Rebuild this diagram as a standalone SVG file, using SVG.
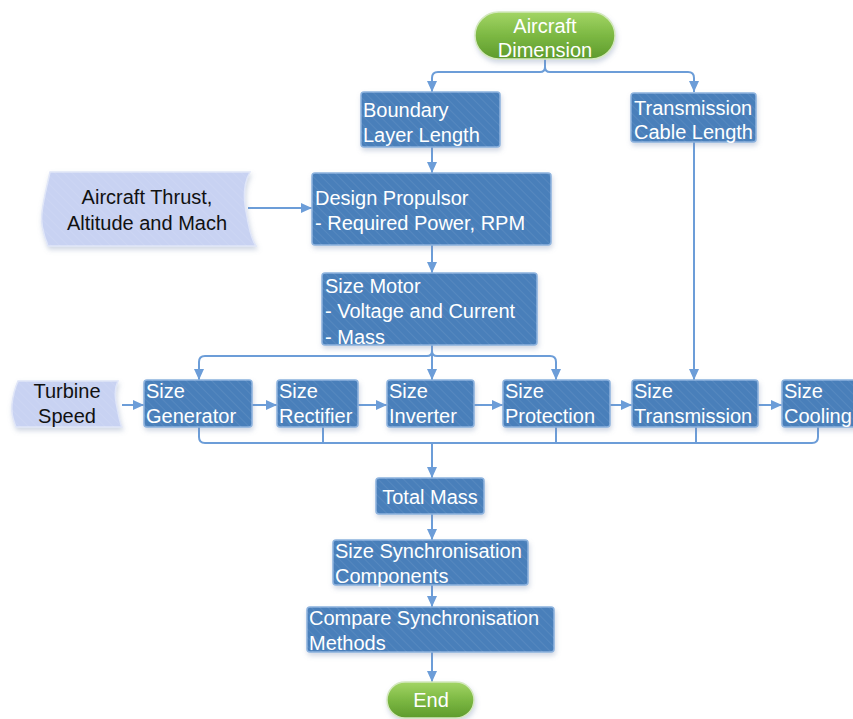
<svg xmlns="http://www.w3.org/2000/svg" width="853" height="719" viewBox="0 0 853 719">
<style>
.box{fill:#4a7fba;stroke:#8cb2de;stroke-width:1.5}
.hatch{fill:url(#hatch);pointer-events:none}
.data{fill:#c8d2f2;stroke:#e0e6f8;stroke-width:1.5}
.term{fill:url(#green);stroke:#d4e8bf;stroke-width:1.5}
.wt{font-family:"Liberation Sans",Arial,sans-serif;font-size:20px;fill:#ffffff}
.bt{font-family:"Liberation Sans",Arial,sans-serif;font-size:20px;fill:#111111}
.c{text-anchor:middle}
.conn path{fill:none;stroke:#6c9dd8;stroke-width:2}
.sh{filter:url(#shadow)}
</style>
<defs>
<linearGradient id="green" x1="0" y1="0" x2="0" y2="1">
<stop offset="0" stop-color="#a3d565"/>
<stop offset="0.5" stop-color="#7cb843"/>
<stop offset="1" stop-color="#5e9b2c"/>
</linearGradient>
<pattern id="hatch" width="6" height="6" patternUnits="userSpaceOnUse" patternTransform="rotate(-45)">
<rect width="6" height="6" fill="none"/>
<line x1="0" y1="0" x2="0" y2="6" stroke="#ffffff" stroke-opacity="0.07" stroke-width="2"/>
</pattern>
<filter id="shadow" x="-10%" y="-20%" width="120%" height="150%">
<feDropShadow dx="1" dy="3" stdDeviation="2.5" flood-color="#7a8fb0" flood-opacity="0.35"/>
</filter>
<marker id="arr" markerWidth="12" markerHeight="12" refX="11" refY="6" orient="auto" markerUnits="userSpaceOnUse">
<path d="M0,1 L11,6 L0,11 Z" fill="#6c9dd8"/>
</marker>
</defs>
<rect width="853" height="719" fill="#ffffff"/>

<g class="conn" id="connectors">
<path d="M545,59 V67 Q545,72 540,72 H438 Q432,72 432,78 V92" marker-end="url(#arr)"/>
<path d="M545,67 Q545,72 550,72 H688 Q694,72 694,78 V92" marker-end="url(#arr)"/>
<path d="M432,147 V173" marker-end="url(#arr)"/>
<path d="M248,208 H312" marker-end="url(#arr)"/>
<path d="M432,245 V273" marker-end="url(#arr)"/>
<path d="M694,142 V380" marker-end="url(#arr)"/>
<path d="M432,345 V380" marker-end="url(#arr)"/>
<path d="M432,351 Q432,356 427,356 H205 Q199,356 199,362 V380" marker-end="url(#arr)"/>
<path d="M432,351 Q432,356 437,356 H550 Q556,356 556,362 V380" marker-end="url(#arr)"/>
<path d="M122,405 H144" marker-end="url(#arr)"/>
<path d="M252,405 H277" marker-end="url(#arr)"/>
<path d="M358,405 H387" marker-end="url(#arr)"/>
<path d="M474,405 H503" marker-end="url(#arr)"/>
<path d="M610,405 H632" marker-end="url(#arr)"/>
<path d="M758,405 H782" marker-end="url(#arr)"/>
<path d="M199,427 V437 Q199,443 205,443 H812 Q818,443 818,437 V427"/>
<path d="M323,427 V443"/>
<path d="M556,427 V443"/>
<path d="M696,427 V443"/>
<path d="M432,443 V478" marker-end="url(#arr)"/>
<path d="M432,514 V540" marker-end="url(#arr)"/>
<path d="M432,585 V607" marker-end="url(#arr)"/>
<path d="M432,652 V682" marker-end="url(#arr)"/>
</g>

<g id="aircraft-dimension">
<rect class="term sh" x="475" y="12" width="140" height="47" rx="23.5"/>
<text class="wt c" x="545" y="33">Aircraft</text>
<text class="wt c" x="545" y="57">Dimension</text>
</g>

<g id="boundary-layer-length">
<rect class="box sh" x="361" y="92" width="139" height="55" rx="3"/>
<rect class="hatch" x="361" y="92" width="139" height="55" rx="3"/>
<text class="wt" x="363" y="117">Boundary</text>
<text class="wt" x="363" y="142">Layer Length</text>
</g>

<g id="transmission-cable-length">
<rect class="box sh" x="631" y="93" width="125" height="49" rx="3"/>
<rect class="hatch" x="631" y="93" width="125" height="49" rx="3"/>
<text class="wt" x="634" y="115">Transmission</text>
<text class="wt" x="634" y="139">Cable Length</text>
</g>

<g id="aircraft-thrust">
<path class="data sh" d="M50,172 H250 C240,190 246,210 248,222 C250,232 252,240 256,246 H48 C44,236 40,224 42,212 C44,196 48,182 50,172 Z"/>
<path class="hatch" d="M50,172 H250 C240,190 246,210 248,222 C250,232 252,240 256,246 H48 C44,236 40,224 42,212 C44,196 48,182 50,172 Z"/>
<text class="bt c" x="147" y="204">Aircraft Thrust,</text>
<text class="bt c" x="147" y="230">Altitude and Mach</text>
</g>

<g id="design-propulsor">
<rect class="box sh" x="312" y="173" width="239" height="72" rx="3"/>
<rect class="hatch" x="312" y="173" width="239" height="72" rx="3"/>
<text class="wt" x="315" y="205">Design Propulsor</text>
<text class="wt" x="315" y="230">- Required Power, RPM</text>
</g>

<g id="size-motor">
<rect class="box sh" x="322" y="273" width="215" height="72" rx="3"/>
<rect class="hatch" x="322" y="273" width="215" height="72" rx="3"/>
<text class="wt" x="325" y="293">Size Motor</text>
<text class="wt" x="325" y="318">- Voltage and Current</text>
<text class="wt" x="325" y="344">- Mass</text>
</g>

<g id="turbine-speed">
<path class="data sh" d="M18,381 H118 C113,392 116,402 118,412 C119,418 120,423 122,427 H16 C13,420 11,412 12,404 C13,395 15,388 18,381 Z"/>
<path class="hatch" d="M18,381 H118 C113,392 116,402 118,412 C119,418 120,423 122,427 H16 C13,420 11,412 12,404 C13,395 15,388 18,381 Z"/>
<text class="bt c" x="67" y="398">Turbine</text>
<text class="bt c" x="67" y="423">Speed</text>
</g>

<g id="size-generator">
<rect class="box sh" x="144" y="380" width="108" height="47" rx="3"/>
<rect class="hatch" x="144" y="380" width="108" height="47" rx="3"/>
<text class="wt" x="146" y="398">Size</text>
<text class="wt" x="146" y="423">Generator</text>
</g>

<g id="size-rectifier">
<rect class="box sh" x="277" y="380" width="81" height="47" rx="3"/>
<rect class="hatch" x="277" y="380" width="81" height="47" rx="3"/>
<text class="wt" x="279" y="398">Size</text>
<text class="wt" x="279" y="423">Rectifier</text>
</g>

<g id="size-inverter">
<rect class="box sh" x="387" y="380" width="87" height="47" rx="3"/>
<rect class="hatch" x="387" y="380" width="87" height="47" rx="3"/>
<text class="wt" x="389" y="398">Size</text>
<text class="wt" x="389" y="423">Inverter</text>
</g>

<g id="size-protection">
<rect class="box sh" x="503" y="380" width="107" height="47" rx="3"/>
<rect class="hatch" x="503" y="380" width="107" height="47" rx="3"/>
<text class="wt" x="505" y="398">Size</text>
<text class="wt" x="505" y="423">Protection</text>
</g>

<g id="size-transmission">
<rect class="box sh" x="632" y="380" width="126" height="47" rx="3"/>
<rect class="hatch" x="632" y="380" width="126" height="47" rx="3"/>
<text class="wt" x="634" y="398">Size</text>
<text class="wt" x="634" y="423">Transmission</text>
</g>

<g id="size-cooling">
<rect class="box sh" x="782" y="380" width="80" height="47" rx="3"/>
<rect class="hatch" x="782" y="380" width="80" height="47" rx="3"/>
<text class="wt" x="784" y="398">Size</text>
<text class="wt" x="784" y="423">Cooling</text>
</g>

<g id="total-mass">
<rect class="box sh" x="376" y="478" width="108" height="36" rx="3"/>
<rect class="hatch" x="376" y="478" width="108" height="36" rx="3"/>
<text class="wt c" x="430" y="504">Total Mass</text>
</g>

<g id="size-synchronisation-components">
<rect class="box sh" x="333" y="540" width="195" height="45" rx="3"/>
<rect class="hatch" x="333" y="540" width="195" height="45" rx="3"/>
<text class="wt" x="335" y="558">Size Synchronisation</text>
<text class="wt" x="335" y="583">Components</text>
</g>

<g id="compare-synchronisation-methods">
<rect class="box sh" x="307" y="607" width="247" height="45" rx="3"/>
<rect class="hatch" x="307" y="607" width="247" height="45" rx="3"/>
<text class="wt" x="309" y="625">Compare Synchronisation</text>
<text class="wt" x="309" y="650">Methods</text>
</g>

<g id="end">
<rect class="term sh" x="387" y="682" width="87" height="36" rx="18"/>
<text class="wt c" x="431" y="707">End</text>
</g>
</svg>
